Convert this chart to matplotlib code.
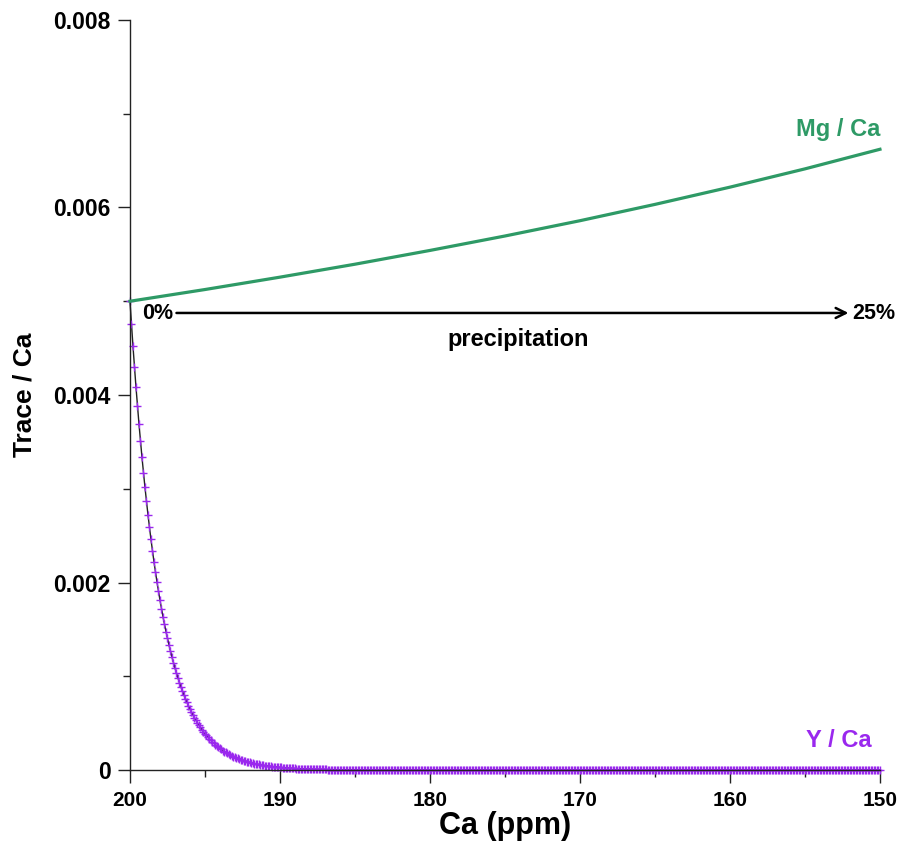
import numpy as np
import matplotlib
matplotlib.use('Agg')
import matplotlib.pyplot as plt
from matplotlib.ticker import MultipleLocator, FuncFormatter

plt.rcParams['font.family'] = 'Liberation Sans'
plt.rcParams['font.weight'] = 'bold'

# Mg/Ca (x1e-3) against Ca
mg_ca_x = [200, 195, 190, 185, 180, 175, 170, 165, 160, 155, 150]
mg_ca = [5.000, 5.125, 5.257, 5.395, 5.542, 5.696, 5.859, 6.033, 6.217, 6.412, 6.621]

# Y/Ca (x1e-3), one point every 0.1 ppm from 200 down to 150
y_ca = [
    5.000, 4.754, 4.520, 4.297, 4.085, 3.883, 3.691, 3.509, 3.335, 3.171,
    3.014, 2.865, 2.722, 2.587, 2.459, 2.337, 2.221, 2.111, 2.006, 1.907,
    1.812, 1.722, 1.636, 1.555, 1.477, 1.404, 1.334, 1.267, 1.204, 1.144,
    1.087, 1.033, 0.981, 0.932, 0.885, 0.841, 0.799, 0.759, 0.721, 0.685,
    0.650, 0.618, 0.587, 0.558, 0.530, 0.503, 0.477, 0.454, 0.431, 0.409,
    0.388, 0.369, 0.350, 0.332, 0.315, 0.299, 0.284, 0.270, 0.256, 0.243,
    0.231, 0.219, 0.208, 0.197, 0.187, 0.178, 0.169, 0.160, 0.152, 0.144,
    0.137, 0.130, 0.123, 0.117, 0.111, 0.105, 0.100, 0.095, 0.090, 0.085,
    0.081, 0.077, 0.073, 0.069, 0.066, 0.062, 0.059, 0.056, 0.053, 0.050,
    0.048, 0.045, 0.043, 0.041, 0.039, 0.037, 0.035, 0.033, 0.031, 0.030,
    0.028, 0.027, 0.025, 0.024, 0.023, 0.021, 0.020, 0.019, 0.018, 0.017,
    0.017, 0.016, 0.015, 0.014, 0.013, 0.013, 0.012, 0.011, 0.011, 0.010,
    0.010, 0.009, 0.009, 0.008, 0.008, 0.008, 0.007, 0.007, 0.006, 0.006,
    0.006, 0.006, 0.005, 0.005, 0.005, 0.004, 0.004, 0.004, 0.004, 0.003,
    0.003, 0.003, 0.003, 0.003, 0.002, 0.002, 0.002, 0.002, 0.002, 0.002,
    0.002, 0.001, 0.001, 0.001, 0.001, 0.001, 0.001, 0.001, 0.001, 0.001,
    0.001, 0.001, 0.001, 0, 0, 0, 0, 0, 0, 0,
    0, 0, 0, 0, 0, 0, 0, 0, 0, 0, 0, 0, 0, 0, 0, 0, 0, 0, 0, 0, 0, 0, 0, 0, 0, 0, 0, 0, 0, 0,
    0, 0, 0, 0, 0, 0, 0, 0, 0, 0, 0, 0, 0, 0, 0, 0, 0, 0, 0, 0, 0, 0, 0, 0, 0, 0, 0, 0, 0, 0,
    0, 0, 0, 0, 0, 0, 0, 0, 0, 0, 0, 0, 0, 0, 0, 0, 0, 0, 0, 0, 0, 0, 0, 0, 0, 0, 0, 0, 0, 0,
    0, 0, 0, 0, 0, 0, 0, 0, 0, 0, 0, 0, 0, 0, 0, 0, 0, 0, 0, 0, 0, 0, 0, 0, 0, 0, 0, 0, 0, 0,
    0, 0, 0, 0, 0, 0, 0, 0, 0, 0, 0, 0, 0, 0, 0, 0, 0, 0, 0, 0, 0, 0, 0, 0, 0, 0, 0, 0, 0, 0,
    0, 0, 0, 0, 0, 0, 0, 0, 0, 0, 0, 0, 0, 0, 0, 0, 0, 0, 0, 0, 0, 0, 0, 0, 0, 0, 0, 0, 0, 0,
    0, 0, 0, 0, 0, 0, 0, 0, 0, 0, 0, 0, 0, 0, 0, 0, 0, 0, 0, 0, 0, 0, 0, 0, 0, 0, 0, 0, 0, 0,
    0, 0, 0, 0, 0, 0, 0, 0, 0, 0, 0, 0, 0, 0, 0, 0, 0, 0, 0, 0, 0, 0, 0, 0, 0, 0, 0, 0, 0, 0,
    0, 0, 0, 0, 0, 0, 0, 0, 0, 0, 0, 0, 0, 0, 0, 0, 0, 0, 0, 0, 0, 0, 0, 0, 0, 0, 0, 0, 0, 0,
    0, 0, 0, 0, 0, 0, 0, 0, 0, 0, 0, 0, 0, 0, 0, 0, 0, 0, 0, 0, 0, 0, 0, 0, 0, 0, 0, 0, 0, 0,
    0, 0, 0, 0, 0, 0, 0, 0, 0, 0, 0, 0, 0, 0, 0, 0, 0, 0, 0, 0, 0, 0, 0, 0, 0, 0, 0, 0, 0, 0,
    0,
]
y_ca_x = 200 - 0.1 * np.arange(len(y_ca))

green = '#2e9a66'
purple = '#9a28ee'

fig = plt.figure(figsize=(8.97, 8.47), dpi=100)
ax = fig.add_axes([0.1449, 0.0909, 0.8361, 0.8855])

ax.plot(mg_ca_x, np.array(mg_ca) * 1e-3, color=green, lw=2.3, zorder=3, clip_on=False)
ax.plot(y_ca_x, np.array(y_ca) * 1e-3, color='#222222', lw=1.0,
        marker='+', ms=6, mec=purple, mew=1.0, zorder=2, clip_on=False)

ax.set_xlim(200, 150)
ax.set_ylim(0, 0.008)
ax.spines['top'].set_visible(False)
ax.spines['right'].set_visible(False)
for s in ('left', 'bottom'):
    ax.spines[s].set_linewidth(1.0)
    ax.spines[s].set_color('#222222')

ax.xaxis.set_major_locator(MultipleLocator(10))
ax.xaxis.set_minor_locator(MultipleLocator(5))
ax.yaxis.set_major_locator(MultipleLocator(0.002))
ax.yaxis.set_minor_locator(MultipleLocator(0.001))
ax.yaxis.set_major_formatter(FuncFormatter(lambda v, p: '0' if v == 0 else f'{v:.3f}'))
ax.tick_params(which='major', length=9, width=1.0, pad=5, color='#222222')
ax.tick_params(which='minor', length=5, width=1.0, color='#222222')
ax.tick_params(axis='y', labelsize=16.5)
ax.tick_params(axis='x', labelsize=15, pad=6)
for lab in ax.get_xticklabels() + ax.get_yticklabels():
    lab.set_fontweight('bold')

ax.set_xlabel('Ca (ppm)', fontsize=22, fontweight='bold', labelpad=1)
ax.set_ylabel('Trace / Ca', fontsize=19, fontweight='bold', labelpad=12)

ax.text(150, 0.00683, 'Mg / Ca', color=green, fontsize=17, fontweight='bold',
        ha='right', va='center')
ax.text(150.55, 0.00031, 'Y / Ca', color=purple, fontsize=17, fontweight='bold',
        ha='right', va='center')

ax.text(199.2, 0.00487, '0%', fontsize=15.5, fontweight='bold', ha='left', va='center')
ax.text(151.85, 0.00487, '25%', fontsize=15.5, fontweight='bold', ha='left', va='center')
ax.annotate('', xy=(152.1, 0.004875), xytext=(196.9, 0.004875),
            arrowprops=dict(arrowstyle='->', color='black', lw=1.8,
                            mutation_scale=18, shrinkA=0, shrinkB=0))
ax.text(174.1, 0.00459, 'precipitation', fontsize=17, fontweight='bold',
        ha='center', va='center')

fig.savefig('out.png', dpi=100)
